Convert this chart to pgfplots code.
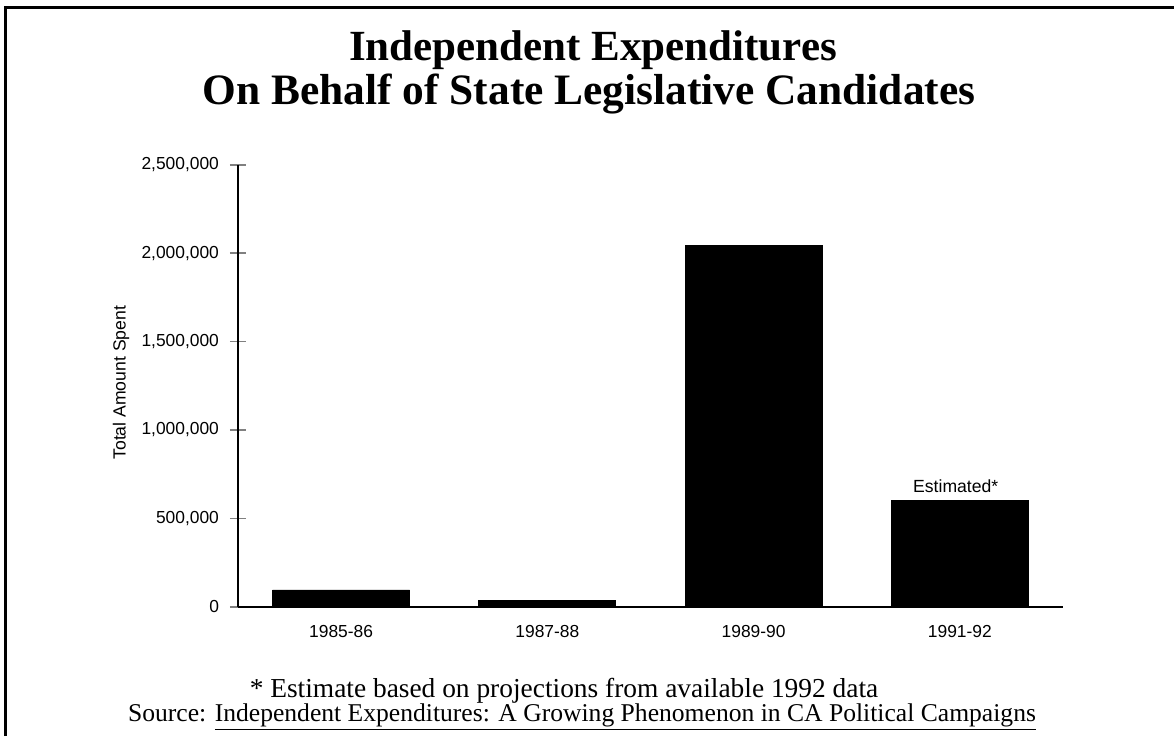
\documentclass[border=0pt]{standalone}
\usepackage{pgfplots}
\pgfplotsset{compat=1.18}
\usepackage{fontspec}
\setmainfont{Liberation Serif}
\newfontfamily\arial{Liberation Sans}
\begin{document}
\begin{tikzpicture}
\path[use as bounding box] (0,0) rectangle (587pt,368pt);
\draw[line width=1.5pt] (2.5pt,0) -- (2.5pt,364.5pt) -- (587pt,364.5pt);
\node[font=\fontsize{21.5}{25}\selectfont\bfseries] at (296.5pt,343pt) {Independent Expenditures};
\node[font=\fontsize{21.7}{25}\selectfont\bfseries] at (294.5pt,321pt) {On Behalf of State Legislative Candidates};
\node[font=\fontsize{13.7}{15}\selectfont] at (282pt,22.5pt) {* Estimate based on projections from available 1992 data};
\node[font=\fontsize{12.8}{15}\selectfont] at (291pt,9.5pt) {Source: \underline{Independent Expenditures: A Growing Phenomenon in CA Political Campaigns}};
\begin{axis}[
  at={(119pt,64.65pt)}, anchor=south west,
  scale only axis, width=412.5pt, height=221pt,
  xmin=-0.5, xmax=3.5, ymin=0, ymax=2500000,
  axis x line*=bottom, axis y line*=left,
  axis line style={line width=0.8pt},
  xtick={0,1,2,3},
  xticklabels={1985-86,1987-88,1989-90,1991-92},
  x tick style={draw=none},
  extra x ticks={-0.5,0.5,1.5,2.5,3.5},
  extra x tick labels={},
  extra x tick style={tick style={draw=black, line width=0.8pt}, major tick length=8pt},
  ytick={0,500000,1000000,1500000,2000000,2500000},
  scaled y ticks=false,
  /pgf/number format/fixed,
  /pgf/number format/1000 sep={,},
  /pgf/number format/assume math mode=true,
  tick align=center,
  major tick length=8pt,
  y tick style={line width=0.8pt},
  tick label style={font=\arial\fontsize{8.7}{10}\selectfont},
  xticklabel style={yshift=-2pt},
  yticklabel style={xshift=-2pt},
  ylabel={Total Amount Spent},
  ylabel style={font=\arial\fontsize{8.8}{10}\selectfont, at={(-58.5pt,112pt)}, anchor=center},
  clip=false,
]
\addplot[ybar, bar width=68.5pt, fill=black, draw=black] coordinates {
  (0,95000) (1,36000) (2,2045000) (3,600000)
};
\node[font=\arial\fontsize{8.8}{10}\selectfont, anchor=south, inner sep=0pt] at (axis cs:2.98,640000) {Estimated*};
\end{axis}
\end{tikzpicture}
\end{document}
